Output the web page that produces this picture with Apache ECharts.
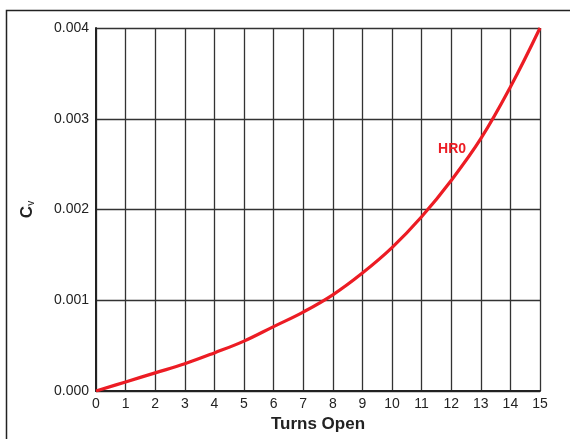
<!DOCTYPE html>
<html>
<head>
<meta charset="utf-8">
<script src="https://cdn.jsdelivr.net/npm/echarts@6/dist/echarts.min.js"></script>
<style>html,body{margin:0;padding:0;background:#fff}#c{width:570px;height:439px}</style>
</head>
<body>
<div id="c"></div>
<script>
const turns = [0,1,2,3,4,5,6,7,8,9,10,11,12,13,14,15];
const cvHR0 = [0,0.0001,0.0002,0.0003,0.00042,0.00055,0.00071,0.00087,0.00106,0.0013,0.00158,0.00192,0.00232,0.00278,0.00335,0.004];
const seriesName = 'HR0';
const labelAt = [12.03, 0.00266];
const yTicks = ['0.000','0.001','0.002','0.003','0.004'];

const chart = echarts.init(document.getElementById('c'));
const font = 'Liberation Sans, Arial, sans-serif';
chart.setOption({
  animation: false,
  graphic: [{
    type: 'rect', shape: {x: 6.5, y: 10.5, width: 700, height: 600},
    style: {fill: 'none', stroke: '#222', lineWidth: 1.5}, silent: true
  }],
  grid: {left: 96, right: 30, top: 28, bottom: 48},
  xAxis: {
    type: 'value', min: 0, max: 15, interval: 1,
    name: 'Turns Open', nameLocation: 'middle', nameGap: 22,
    nameTextStyle: {fontFamily: font, fontWeight: 'bold', fontSize: 17, color: '#222'},
    axisLine: {lineStyle: {color: '#222', width: 2}},
    axisTick: {show: false},
    axisLabel: {fontFamily: font, fontSize: 14, color: '#222', margin: 6},
    splitLine: {show: true, lineStyle: {color: '#333', width: 1.3}}
  },
  yAxis: {
    type: 'value', min: 0, max: 0.004, interval: 0.001,
    name: '{c|C}{v|v}', nameLocation: 'middle', nameGap: 60, nameRotate: 90,
    nameTextStyle: {rich: {
      c: {fontFamily: font, fontWeight: 'bold', fontSize: 17, color: '#222'},
      v: {fontFamily: font, fontSize: 10, color: '#222', verticalAlign: 'bottom', padding: [6,0,0,0]}
    }},
    axisLine: {show: true, lineStyle: {color: '#222', width: 2}},
    axisTick: {show: false},
    axisLabel: {fontFamily: font, fontSize: 14, color: '#222', margin: 7,
      formatter: (v) => yTicks[Math.round(v / 0.001)]},
    splitLine: {show: true, lineStyle: {color: '#333', width: 1.3}}
  },
  series: [{
    name: seriesName, type: 'line', smooth: 0.4, symbol: 'none',
    data: turns.map((t, i) => [t, cvHR0[i]]),
    lineStyle: {color: '#ec1c24', width: 3.2},
    markPoint: {
      symbol: 'circle', symbolSize: 0,
      data: [{coord: labelAt, value: seriesName}],
      label: {show: true, position: 'inside', formatter: seriesName,
        fontFamily: font, fontWeight: 'bold', fontSize: 14, color: '#ec1c24'}
    }
  }]
});
</script>
</body>
</html>
